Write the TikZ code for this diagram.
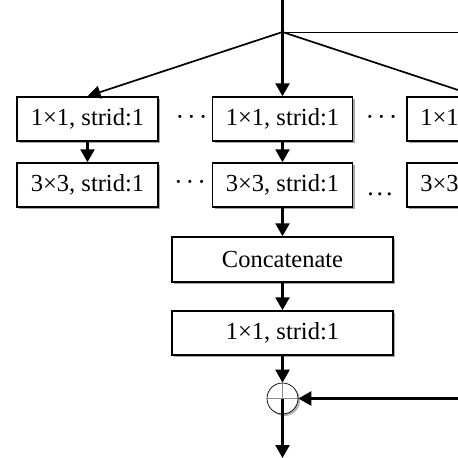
\documentclass[tikz,border=0pt]{standalone}
\usepackage{fontspec}
\setmainfont{Liberation Serif}
\usetikzlibrary{arrows.meta,shadows}
\begin{document}
\begin{tikzpicture}[x=1pt,y=-1pt,
  box/.style={draw, line width=1.5pt, fill=white, minimum height=44pt, inner sep=0pt,
    drop shadow={shadow xshift=2pt, shadow yshift=-2pt, fill=black!35, opacity=1},
    font=\fontsize{24.5}{29}\selectfont},
  arr/.style={-{Triangle[length=13pt,width=14pt]}, line width=2.5pt},
  thinarr/.style={-{Triangle[length=13pt,width=13pt]}, line width=1.7pt},
  dots/.style={inner sep=0pt, anchor=base, font=\fontsize{26}{30}\selectfont},
  sumnode/.style={circle, draw, line width=0.7pt, fill=white, minimum size=31pt, inner sep=0pt,
    drop shadow={shadow xshift=2pt, shadow yshift=-2pt, fill=black!30, opacity=1},
    path picture={\draw[black!45, line width=0.4pt]
      (path picture bounding box.west) -- (path picture bounding box.east)
      (path picture bounding box.north) -- (path picture bounding box.south);}}]
\useasboundingbox (0,0) rectangle (458,458);
\clip (0,0) rectangle (458,458);
% coordinates
\coordinate (top) at (282.5,0);
\coordinate (s) at (282.5,32);
\coordinate (hr) at (458,32);
\coordinate (rin) at (458,398.5);
\coordinate (out) at (282.5,458);
% row 1
\node[box, minimum width=141pt] (a1) at (87.5,119) {1×1, strid:1};
\node[box, minimum width=140pt] (a2) at (282.5,119) {1×1, strid:1};
\node[box, minimum width=140pt] (a3) at (477,119) {1×1, strid:1};
% row 2
\node[box, minimum width=141pt] (b1) at (87.5,185) {3×3, strid:1};
\node[box, minimum width=140pt] (b2) at (282.5,185) {3×3, strid:1};
\node[box, minimum width=140pt] (b3) at (477,185) {3×3, strid:1};
% dots
\node[dots] (d1) at (191.5,125) {·\kern3pt·\kern3pt·};
\node[dots] (d2) at (381.5,125) {·\kern3pt·\kern3pt·};
\node[dots] (d3) at (190,190) {·\kern3pt·\kern3pt·};
\node[dots] (d4) at (380,195) {.\kern3pt.\kern3pt.};
% lower
\node[box, minimum width=221pt, minimum height=45pt] (cat) at (282.5,259.5) {Concatenate};
\node[box, minimum width=221pt] (fin) at (282.5,333) {1×1, strid:1};
\node[sumnode] (add) at (282.5,398.5) {};
% connectors
\draw[line width=2.5pt] (top) -- (s);
\draw[line width=0.8pt] (s) -- (hr);
\draw[arr] (s) -- (a2);
\draw[thinarr] (s) -- (a1.north);
\draw[thinarr] (s) -- (a3.north);
\draw[arr] (a1) -- (b1);
\draw[arr] (a2) -- (b2);
\draw[arr] (b2) -- (cat);
\draw[arr] (cat) -- (fin);
\draw[arr] (fin) -- (add);
\draw[arr] (rin) -- (add);
\draw[arr] (add.center) -- (out);
\end{tikzpicture}
\end{document}
